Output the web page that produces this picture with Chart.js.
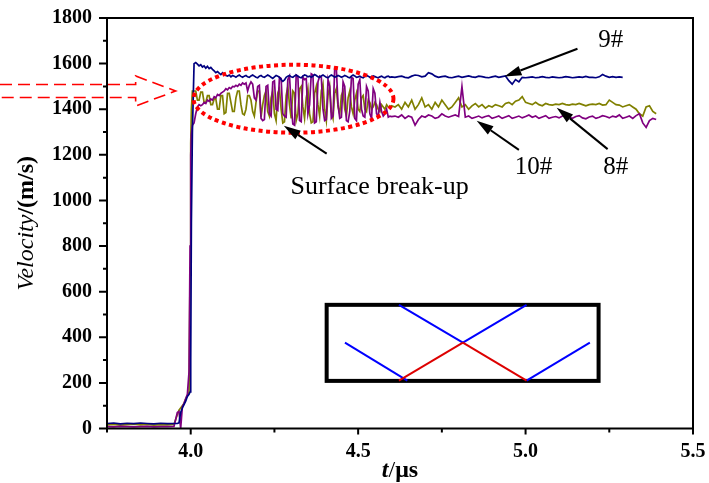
<!DOCTYPE html>
<html>
<head>
<meta charset="utf-8">
<title>Velocity history</title>
<script src="https://cdn.jsdelivr.net/npm/chart.js@4.4.1/dist/chart.umd.min.js"></script>
<style>
html, body { margin: 0; padding: 0; background: #fff; }
canvas { display: block; }
</style>
</head>
<body>
<canvas id="velocityChart" width="709" height="483"></canvas>
<script>
// sample times (us)
const times = [
  3.75, 3.77, 3.79, 3.81, 3.83, 3.85, 3.87, 3.89, 3.91, 3.93,
  3.95, 3.96, 3.965, 3.97, 3.975, 3.98, 3.985, 3.99, 3.995, 3.998,
  4.0, 4.002, 4.005,
  4.010, 4.015, 4.020, 4.025, 4.030, 4.035, 4.040, 4.045, 4.050, 4.055,
  4.060, 4.065, 4.070, 4.075, 4.080, 4.085, 4.090, 4.095, 4.100, 4.105,
  4.110, 4.115, 4.120, 4.125, 4.130, 4.135, 4.140, 4.145, 4.150, 4.155,
  4.160, 4.165, 4.170, 4.175, 4.180, 4.185, 4.190, 4.195, 4.200, 4.205,
  4.210, 4.215, 4.220, 4.225, 4.230, 4.235, 4.240, 4.245, 4.250, 4.255,
  4.260, 4.265, 4.270, 4.275, 4.280, 4.285, 4.290, 4.295, 4.300, 4.305,
  4.310, 4.315, 4.320, 4.325, 4.330, 4.335, 4.340, 4.345, 4.350, 4.355,
  4.360, 4.365, 4.370, 4.375, 4.380, 4.385, 4.390, 4.395, 4.400, 4.405,
  4.410, 4.415, 4.420, 4.425, 4.430, 4.435, 4.440, 4.445, 4.450, 4.455,
  4.460, 4.465, 4.470, 4.475, 4.480, 4.485, 4.490, 4.495, 4.500, 4.505,
  4.510, 4.515, 4.520, 4.525, 4.530, 4.535, 4.540, 4.545, 4.550, 4.555,
  4.560, 4.565, 4.570, 4.575, 4.580, 4.585, 4.590, 4.595, 4.600,
  4.61, 4.62, 4.63, 4.64, 4.65, 4.66, 4.67, 4.68, 4.69, 4.70,
  4.71, 4.72, 4.73, 4.74, 4.75, 4.76, 4.77, 4.78, 4.79, 4.80,
  4.81, 4.82, 4.83, 4.84, 4.85, 4.86, 4.87, 4.88, 4.89, 4.90,
  4.91, 4.92, 4.93, 4.94, 4.95, 4.96, 4.97, 4.98, 4.99, 5.00,
  5.01, 5.02, 5.03, 5.04, 5.05, 5.06, 5.07, 5.08, 5.09, 5.10,
  5.11, 5.12, 5.13, 5.14, 5.15, 5.16, 5.17, 5.18, 5.19, 5.20,
  5.21, 5.22, 5.23, 5.24, 5.25, 5.26, 5.27, 5.28, 5.29, 5.30,
  5.31, 5.32, 5.33, 5.34, 5.35, 5.36, 5.37, 5.38, 5.39
];

// 9# velocity (m/s)
const vel9 = [
  22, 24, 20, 23, 21, 24, 22, 20, 23, 21,
  22, 22, 25, 70, 90, 105, 120, 140, 150, 160,
  300, 900, 1300,
  1600, 1605, 1598, 1590, 1595, 1585, 1590, 1580, 1588, 1578,
  1583, 1575, 1568, 1560, 1565, 1558, 1552, 1560, 1550, 1548,
  1545, 1550, 1542, 1548, 1545, 1540, 1546, 1550, 1544, 1540,
  1545, 1548, 1542, 1540, 1546, 1550, 1545, 1540, 1538, 1545,
  1548, 1542, 1540, 1545, 1550, 1546, 1540, 1535, 1542, 1548,
  1545, 1540, 1530, 1522, 1528, 1540, 1545, 1548, 1542, 1540,
  1546, 1550, 1545, 1540, 1538, 1545, 1550, 1548, 1542, 1545,
  1540, 1545, 1552, 1548, 1542, 1540, 1546, 1550, 1545, 1540,
  1538, 1545, 1550, 1546, 1540, 1544, 1548, 1545, 1540, 1543,
  1548, 1545, 1540, 1538, 1545, 1550, 1546, 1540, 1542, 1545,
  1540, 1538, 1544, 1548, 1545, 1540, 1542, 1546, 1543, 1540,
  1538, 1542, 1545, 1540, 1538, 1543, 1545, 1540, 1542,
  1540, 1543, 1545, 1540, 1538, 1545, 1550, 1548, 1542, 1545,
  1560, 1555, 1545, 1540, 1543, 1545, 1540, 1538, 1542, 1545,
  1540, 1543, 1546, 1542, 1540, 1545, 1543, 1540, 1538, 1542,
  1545, 1540, 1543, 1546, 1525, 1510, 1530, 1520, 1540, 1538,
  1540, 1542, 1538, 1540, 1543, 1540, 1538, 1542, 1540, 1538,
  1540, 1543, 1541, 1538, 1540, 1542, 1540, 1544, 1540, 1540,
  1538, 1542, 1552, 1545, 1540, 1543, 1540, 1542, 1540, null,
  null, null, null, null, null, null, null, null, null
];

// 10# velocity (m/s)
const vel10 = [
  8, 7, 9, 8, 7, 8, 9, 7, 8, 8,
  9, 70, 75, 0, 95, 110, 130, 150, 250, 800,
  1200, 1290, 1330,
  1340, 1380, 1410, 1420, 1415, 1420, 1430, 1425, 1440, 1435,
  1445, 1440, 1455, 1450, 1465, 1460, 1470, 1475, 1480, 1490,
  1485, 1495, 1490, 1500, 1498, 1505, 1500, 1510, 1505, 1515,
  1510, 1515, 1480, 1505, 1520, 1510, 1450, 1440, 1500, 1505,
  1360, 1350, 1355, 1500, 1505, 1380, 1370, 1520, 1525, 1400,
  1395, 1540, 1535, 1380, 1370, 1365, 1530, 1545, 1420, 1335,
  1330, 1550, 1545, 1350, 1345, 1540, 1530, 1535, 1380, 1420,
  1555, 1550, 1340, 1345, 1520, 1545, 1540, 1400, 1350, 1355,
  1530, 1500, 1360, 1370, 1580, 1575, 1420, 1360, 1365, 1520,
  1500, 1350, 1345, 1390, 1540, 1535, 1360, 1350, 1510, 1530,
  1400, 1370, 1365, 1500, 1480, 1380, 1360, 1490, 1470, 1380,
  1370, 1430, 1390, 1370, 1380, 1400, 1365, 1370, 1368,
  1370, 1365, 1375, 1360, 1370, 1365, 1330, 1355, 1370, 1365,
  1375, 1370, 1360, 1365, 1380, 1370, 1365, 1370, 1375, 1368,
  1500, 1365, 1370, 1360, 1365, 1370, 1362, 1368, 1372, 1360,
  1365, 1370, 1360, 1366, 1372, 1360, 1365, 1370, 1362, 1368,
  1375, 1365, 1370, 1360, 1366, 1372, 1360, 1365, 1368, 1362,
  1370, 1380, 1365, 1360, 1368, 1372, 1362, 1358, 1366, 1370,
  1360, 1365, 1372, 1368, 1362, 1370, 1366, 1375, 1360, 1365,
  1370, 1360, 1372, 1380, 1340, 1320, 1350, 1360, 1355
];

// 8# velocity (m/s)
const vel8 = [
  16, 18, 15, 17, 19, 16, 18, 15, 17, 16,
  18, 60, 80, 90, 100, 110, 130, 145, 160, 700,
  1250, 1400, 1480,
  1480, 1480, 1440, 1440, 1475, 1475, 1430, 1430, 1460, 1460,
  1420, 1420, 1445, 1445, 1400, 1400, 1460, 1460, 1380, 1385,
  1470, 1470, 1430, 1390, 1390, 1450, 1480, 1480, 1420, 1380,
  1375, 1400, 1460, 1460, 1440, 1390, 1370, 1430, 1480, 1480,
  1365, 1420, 1460, 1480, 1390, 1370, 1450, 1480, 1380, 1350,
  1470, 1490, 1400, 1340, 1345, 1460, 1500, 1420, 1360, 1480,
  1470, 1350, 1380, 1490, 1500, 1410, 1360, 1450, 1490, 1380,
  1340, 1345, 1470, 1500, 1420, 1370, 1480, 1510, 1400, 1350,
  1460, 1500, 1390, 1360, 1470, 1490, 1410, 1380, 1460, 1480,
  1400, 1370, 1450, 1480, 1410, 1380, 1440, 1470, 1400, 1390,
  1450, 1460, 1400, 1390, 1440, 1430, 1400, 1410, 1430, 1420,
  1400, 1390, 1420, 1410, 1400, 1420, 1410, 1405, 1415,
  1410, 1420, 1400, 1430, 1410, 1440, 1400, 1420, 1450, 1410,
  1420, 1400, 1430, 1410, 1440, 1420, 1400, 1410, 1430, 1450,
  1410, 1420, 1400, 1415, 1425, 1410, 1420, 1405, 1415, 1410,
  1420, 1415, 1410, 1425, 1430, 1420, 1435, 1440, 1455, 1430,
  1425, 1420, 1430, 1420, 1415, 1425, 1420, 1418, 1422, 1420,
  1425, 1420, 1418, 1422, 1420, 1425, 1420, 1415, 1420, 1422,
  1420, 1425, 1418, 1420, 1440, 1430, 1420, 1418, 1410, 1415,
  1420, 1410, 1400, 1380, 1370, 1410, 1415, 1390, 1380
];

// axis ticks
const xMajorTicks = [4.0, 4.5, 5.0, 5.5];
const xMinorTicks = [3.75, 4.25, 4.75, 5.25];
const yMajorTicks = [0, 200, 400, 600, 800, 1000, 1200, 1400, 1600, 1800];
const yMinorTicks = [100, 300, 500, 700, 900, 1100, 1300, 1500, 1700];

const serif = "'Liberation Serif', 'Times New Roman', serif";

function toPoints(vals) {
  return times.map((t, i) => ({ x: t, y: vals[i] }));
}

// arrow with filled head
function drawArrow(ctx, x1, y1, x2, y2) {
  const ang = Math.atan2(y2 - y1, x2 - x1);
  const len = 17, half = 5;
  const bx = x2 - len * Math.cos(ang), by = y2 - len * Math.sin(ang);
  ctx.beginPath();
  ctx.moveTo(x1, y1);
  ctx.lineTo(bx, by);
  ctx.lineWidth = 2;
  ctx.stroke();
  ctx.beginPath();
  ctx.moveTo(x2, y2);
  ctx.lineTo(bx + half * Math.sin(ang), by - half * Math.cos(ang));
  ctx.lineTo(bx - half * Math.sin(ang), by + half * Math.cos(ang));
  ctx.closePath();
  ctx.fill();
}

const decorPlugin = {
  id: 'decor',
  afterDraw(chart) {
    const { ctx, chartArea: a, scales: { x, y } } = chart;
    const px = v => x.getPixelForValue(v);
    const py = v => y.getPixelForValue(v);
    ctx.save();

    // frame
    ctx.strokeStyle = '#000';
    ctx.lineWidth = 2;
    ctx.strokeRect(a.left, a.top, a.right - a.left, a.bottom - a.top);

    // tick marks
    ctx.beginPath();
    xMajorTicks.forEach(v => { ctx.moveTo(px(v), a.bottom); ctx.lineTo(px(v), a.bottom + 6); });
    xMinorTicks.forEach(v => { ctx.moveTo(px(v), a.bottom); ctx.lineTo(px(v), a.bottom + 4); });
    yMajorTicks.forEach(v => { ctx.moveTo(a.left, py(v)); ctx.lineTo(a.left - 8, py(v)); });
    yMinorTicks.forEach(v => { ctx.moveTo(a.left, py(v)); ctx.lineTo(a.left - 4, py(v)); });
    ctx.stroke();

    // axis titles
    ctx.fillStyle = '#000';
    ctx.textBaseline = 'alphabetic';
    ctx.textAlign = 'left';
    const xParts = [['italic bold 24px ' + serif, 't'], ['24px ' + serif, '/'], ['bold 24px ' + serif, 'μs']];
    let w = 0;
    xParts.forEach(p => { ctx.font = p[0]; w += ctx.measureText(p[1]).width; });
    let cx = (a.left + a.right) / 2 - w / 2;
    xParts.forEach(p => { ctx.font = p[0]; ctx.fillText(p[1], cx, 477); cx += ctx.measureText(p[1]).width; });

    const yParts = [['italic 24px ' + serif, 'Velocity'], ['bold 24px ' + serif, '/(m/s)']];
    w = 0;
    yParts.forEach(p => { ctx.font = p[0]; w += ctx.measureText(p[1]).width; });
    ctx.save();
    ctx.translate(33, (a.top + a.bottom) / 2);
    ctx.rotate(-Math.PI / 2);
    cx = -w / 2;
    yParts.forEach(p => { ctx.font = p[0]; ctx.fillText(p[1], cx, 0); cx += ctx.measureText(p[1]).width; });
    ctx.restore();

    // dashed hollow arrow pointing at the plateau
    const tipX = px(3.955), tipY = py(1480);
    ctx.strokeStyle = '#ff0000';
    ctx.lineWidth = 1.6;
    ctx.setLineDash([12, 6]);
    ctx.beginPath();
    ctx.moveTo(0, tipY - 6.5);
    ctx.lineTo(tipX - 40, tipY - 6.5);
    ctx.lineTo(tipX - 40, tipY - 15);
    ctx.lineTo(tipX, tipY);
    ctx.lineTo(tipX - 40, tipY + 15);
    ctx.lineTo(tipX - 40, tipY + 6.5);
    ctx.lineTo(0, tipY + 6.5);
    ctx.stroke();

    // dotted ellipse around the break-up zone
    const ex = px(4.307), ey = py(1446);
    const rx = px(4.307 + 0.2985) - ex, ry = ey - py(1446 + 149);
    ctx.strokeStyle = '#ff0000';
    ctx.lineWidth = 4;
    ctx.setLineDash([4, 3.5]);
    ctx.beginPath();
    ctx.ellipse(ex, ey, rx, ry, 0, 0, Math.PI * 2);
    ctx.stroke();
    ctx.setLineDash([]);

    // black arrows and labels
    ctx.strokeStyle = '#000';
    ctx.fillStyle = '#000';
    drawArrow(ctx, px(5.155), py(1665), px(4.937), py(1543));
    drawArrow(ctx, px(4.98), py(1222), px(4.854), py(1350));
    drawArrow(ctx, px(5.245), py(1225), px(5.093), py(1407));
    drawArrow(ctx, px(4.406), py(1205), px(4.278), py(1328));
    ctx.textAlign = 'center';
    ctx.font = '25px ' + serif;
    ctx.fillText('9#', px(5.254), py(1672));
    ctx.fillText('10#', px(5.024), py(1118));
    ctx.fillText('8#', px(5.269), py(1118));
    ctx.font = '26px ' + serif;
    ctx.fillText('Surface break-up', px(4.564), py(1030));

    // inset sketch
    const bl = px(4.4), br = px(5.224), bt = py(551), bb = py(200);
    ctx.lineWidth = 4;
    ctx.strokeRect(bl + 2, bt + 2, br - bl - 4, bb - bt - 4);
    ctx.lineWidth = 2;
    const seg = (c, pts) => {
      ctx.strokeStyle = c;
      ctx.beginPath();
      ctx.moveTo(px(pts[0]), py(pts[1]));
      ctx.lineTo(px(pts[2]), py(pts[3]));
      ctx.stroke();
    };
    seg('#0000ff', [4.4606, 376.6, 4.6469, 209.8]);
    seg('#0000ff', [4.6218, 542, 4.8128, 376.6]);
    seg('#0000ff', [4.8128, 376.6, 5.003, 542]);
    seg('#0000ff', [5.003, 209.8, 5.192, 376.6]);
    seg('#dd0000', [4.6218, 209.8, 4.8128, 376.6]);
    seg('#dd0000', [4.8128, 376.6, 5.003, 209.8]);

    ctx.restore();
  }
};

const lineStyle = { pointRadius: 0, borderWidth: 1.7, tension: 0, fill: false, spanGaps: false };

new Chart(document.getElementById('velocityChart').getContext('2d'), {
  type: 'line',
  data: {
    datasets: [
      Object.assign({ label: '9#', data: toPoints(vel9), borderColor: '#000080' }, lineStyle),
      Object.assign({ label: '10#', data: toPoints(vel10), borderColor: '#800080' }, lineStyle),
      Object.assign({ label: '8#', data: toPoints(vel8), borderColor: '#808000' }, lineStyle)
    ]
  },
  options: {
    responsive: false,
    animation: false,
    layout: { padding: { top: 18, right: 16, left: 0, bottom: 0 } },
    plugins: { legend: { display: false }, tooltip: { enabled: false } },
    scales: {
      x: {
        type: 'linear',
        min: 3.75,
        max: 5.5,
        afterBuildTicks: s => { s.ticks = xMajorTicks.map(v => ({ value: v })); },
        afterFit: s => { s.height = 54.5; s.paddingLeft = 0; s.paddingRight = 0; },
        grid: { display: false, drawTicks: false },
        border: { display: false },
        ticks: {
          padding: 11,
          color: '#000',
          font: { family: serif, size: 20, weight: 'bold' },
          callback: v => v.toFixed(1)
        }
      },
      y: {
        min: 0,
        max: 1800,
        afterBuildTicks: s => { s.ticks = yMajorTicks.map(v => ({ value: v })); },
        afterFit: s => { s.width = 107; s.paddingTop = 0; s.paddingBottom = 0; },
        grid: { display: false, drawTicks: false },
        border: { display: false },
        ticks: {
          padding: 15,
          color: '#000',
          font: { family: serif, size: 20, weight: 'bold' },
          callback: v => String(v)
        }
      }
    }
  },
  plugins: [decorPlugin]
});
</script>
</body>
</html>
